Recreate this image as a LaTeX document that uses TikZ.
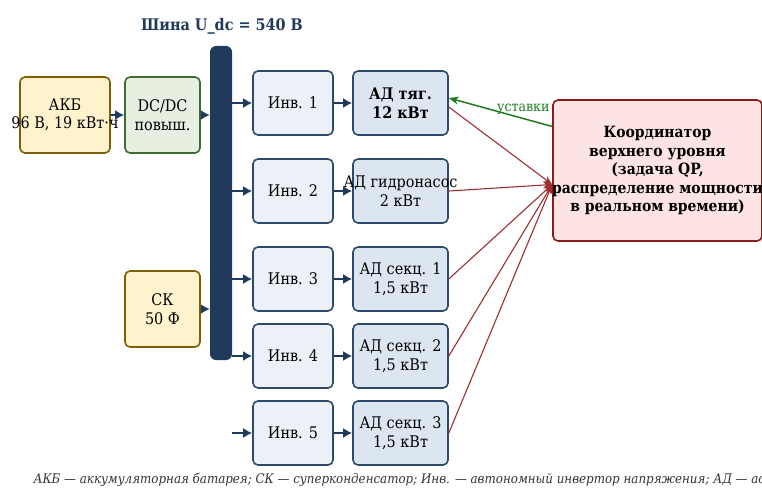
\documentclass[tikz,border=0pt]{standalone}
\usepackage{fontspec}
\setmainfont{DejaVu Serif Condensed}
\usetikzlibrary{arrows.meta}
\usetikzlibrary{calc}
\definecolor{busblue}{HTML}{1F3A5A}
\definecolor{invfill}{HTML}{EDF1F7}
\definecolor{invdraw}{HTML}{2E4A6B}
\definecolor{adfill}{HTML}{DCE6F1}
\definecolor{akbfill}{HTML}{FFF2CC}
\definecolor{akbdraw}{HTML}{7F6000}
\definecolor{dcfill}{HTML}{E6EFE0}
\definecolor{dcdraw}{HTML}{3D6B35}
\definecolor{coordfill}{HTML}{FDE3E3}
\definecolor{coorddraw}{HTML}{8B1A1A}
\definecolor{sigred}{HTML}{9B2F2F}
\definecolor{setgreen}{HTML}{1E7B1E}
\tikzset{
    blk/.style={draw, rounded corners=5pt, line width=1.6pt, align=center, inner sep=0pt, font=\fontsize{16}{18.5}\selectfont},
    txt/.style={align=center, inner sep=0pt, font=\fontsize{16}{18.5}\selectfont},
    invbox/.style={blk, draw=invdraw, fill=invfill, minimum width=80pt, minimum height=64pt},
    adbox/.style={blk, draw=invdraw, fill=adfill, minimum width=95pt, minimum height=64pt},
    srcbox/.style={blk, draw=akbdraw, fill=akbfill, minimum height=76pt},
    pw/.style={-{Latex[length=9pt,width=10pt]}, line width=2.4pt, busblue},
    sig/.style={-{Stealth[length=9pt,width=7pt]}, sigred, line width=1.1pt}
}
\begin{document}
\begin{tikzpicture}[x=1pt,y=-1pt]
\useasboundingbox (0,0) rectangle (762,487);
% sources and bus
\node[srcbox, minimum width=90pt] (akb) at (65,115) {};
\node[txt] (akbtxt) at (akb) {АКБ\\96 В, 19 кВт·ч};
\node[blk, draw=dcdraw, fill=dcfill, minimum width=75pt, minimum height=76pt] (dcdc) at (162.5,115) {DC/DC\\повыш.};
\node[srcbox, minimum width=75pt] (sk) at (162.5,309) {СК\\50 Ф};
\node[fill=busblue, rounded corners=6pt, minimum width=22pt, minimum height=314pt, inner sep=0pt] (bus) at (221,203) {};
\node[font=\bfseries\fontsize{16}{19}\selectfont, text=busblue] (title) at (222,26) {Шина U\_dc = 540 В};
\draw[pw] (akb) -- (dcdc);
\draw[pw] (dcdc.east) -- (dcdc.east -| bus.west);
\draw[pw] (sk.east) -- (sk.east -| bus.west);
% inverters and motors
\foreach \i/\y in {1/103,2/191,3/279,4/356,5/433}{
    \node[invbox] (inv\i) at (293,\y) {Инв. \i};
}
\node[adbox, font=\bfseries\fontsize{16}{18.5}\selectfont] (ad1) at (400.5,103) {АД тяг.\\12 кВт};
\node[adbox] (ad2) at (400.5,191) {};
\node[txt] (ad2txt) at (ad2) {АД гидронасос\\2 кВт};
\foreach \i/\y/\txt in {3/279/{АД секц. 1\\1,5 кВт}, 4/356/{АД секц. 2\\1,5 кВт}, 5/433/{АД секц. 3\\1,5 кВт}}{
    \node[adbox] (ad\i) at (400.5,\y) {\txt};
}
\foreach \i in {1,...,4}{
    \draw[pw] (bus.east |- inv\i.west) -- (inv\i.west);
}
\coordinate (in5) at (232,433);
\draw[pw] (in5) -- (inv5);
\foreach \i in {1,...,5}{
    \draw[pw] (inv\i) -- (ad\i);
}
% coordinator
\node[blk, draw=coorddraw, fill=coordfill, minimum width=209pt, minimum height=141pt, font=\bfseries\fontsize{15.5}{18.5}\selectfont] (coord) at (657.5,170.5) {};
\node[txt, font=\bfseries\fontsize{15.5}{18.5}\selectfont] (coordtxt) at (coord) {Координатор\\верхнего уровня\\(задача QP,\\распределение мощности\\в реальном времени)};
\coordinate (cin) at ($(coord.west)+(0,14)$);
\draw[sig] ($(ad1.east)+(0,4)$) -- (cin);
\foreach \i in {2,...,5}{
    \draw[sig] (ad\i.east) -- (cin);
}
\draw[-{Stealth[length=10pt,width=8pt]}, setgreen, line width=1.5pt] ($(coord.west)+(0,-44)$) -- ($(ad1.east)+(0,-5)$) node[pos=0.28, above, font=\fontsize{14}{16}\selectfont] {уставки};
% caption
\node[anchor=west, font=\itshape\fontsize{13.2}{16}\selectfont, text=black!80] (cap) at (30,480) {АКБ — аккумуляторная батарея; СК — суперконденсатор; Инв. — автономный инвертор напряжения; АД — асинхронный двигатель};
\end{tikzpicture}
\end{document}
